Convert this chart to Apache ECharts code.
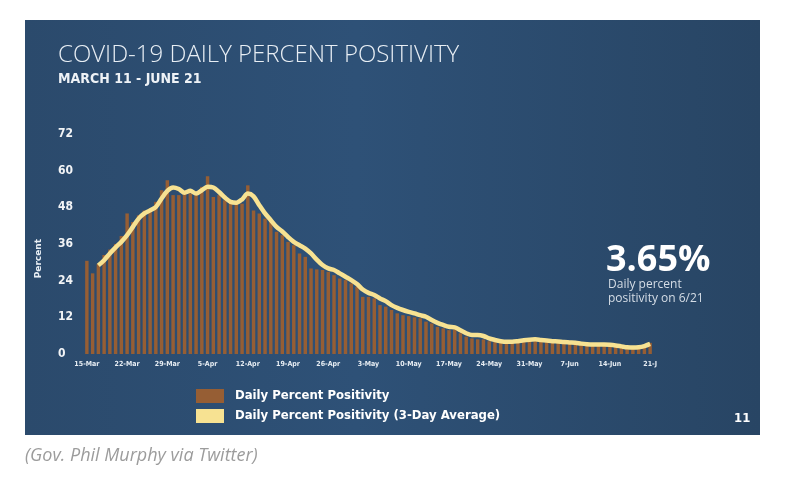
<!DOCTYPE html>
<html>
<head>
<meta charset="utf-8">
<script src="https://cdn.jsdelivr.net/npm/echarts@6/dist/echarts.min.js"></script>
<style>
  html, body { margin: 0; padding: 0; background: #ffffff; }
  #chart { width: 785px; height: 480px; }
</style>
</head>
<body>
<div id="chart"></div>
<script>
// daily positivity, 15-Mar .. 21-Jun
var dailyPositivity = [
    30.5, 26.4, 29.5, 32.4, 34.2, 36.0, 38.6, 46.0, 43.2, 45.4,
    47.0, 47.6, 49.8, 53.6, 56.9, 52.0, 52.0, 53.0, 52.5, 52.0,
    54.7, 58.2, 51.4, 52.0, 50.3, 49.2, 49.2, 49.2, 55.2, 47.0,
    46.0, 44.3, 43.2, 40.0, 38.9, 36.7, 35.6, 32.9, 31.8, 28.0,
    27.7, 27.5, 26.9, 25.8, 24.7, 24.2, 23.1, 22.0, 18.7, 18.7,
    18.2, 16.0, 15.5, 14.4, 13.3, 12.7, 12.4, 12.0, 11.7, 10.6,
    10.0, 8.9, 8.4, 7.8, 8.0, 6.8, 5.7, 5.1, 4.8, 4.8,
    4.2, 3.9, 3.6, 3.5, 3.6, 4.6, 4.9, 4.5, 4.8, 4.2,
    4.3, 3.9, 3.8, 3.7, 3.6, 3.5, 3.0, 2.9, 3.0, 3.2,
    2.9, 2.8, 2.6, 2.2, 2.0, 2.0, 2.3, 2.6, 3.65
];

// 3-day average line, starts on the third day
var threeDayAvg = [
    null, null, 29.0, 30.7, 32.9, 34.9, 36.7, 38.9, 41.6, 44.3,
    46.0, 47.0, 48.1, 50.9, 53.4, 54.5, 54.0, 52.8, 53.4, 52.5,
    53.6, 54.7, 54.5, 53.0, 51.2, 49.8, 49.5, 50.6, 52.5, 51.6,
    48.7, 46.0, 43.8, 41.6, 40.1, 38.3, 36.7, 35.6, 34.5, 32.9,
    30.9, 29.1, 28.0, 27.5, 26.4, 25.3, 24.2, 22.9, 21.1, 20.0,
    19.3, 18.2, 17.3, 16.0, 15.1, 14.4, 13.8, 13.3, 12.7, 12.2,
    11.1, 10.2, 9.5, 8.9, 8.7, 7.8, 6.8, 6.2, 6.2, 5.9,
    5.1, 4.6, 4.2, 4.0, 4.0, 4.2, 4.5, 4.7, 4.8, 4.6,
    4.4, 4.2, 4.1, 3.9, 3.8, 3.7, 3.4, 3.2, 3.1, 3.1,
    3.1, 3.0, 2.8, 2.5, 2.2, 2.1, 2.2, 2.6, 3.3
];

// weekly tick labels as printed on the slide (last one is cut off)
var tickLabels = ['15-Mar', '22-Mar', '29-Mar', '5-Apr', '12-Apr', '19-Apr', '26-Apr',
    '3-May', '10-May', '17-May', '24-May', '31-May', '7-Jun', '14-Jun', '21-J'];

var yTicks = {min: 0, max: 72, interval: 12};

// one category per day, 15-Mar .. 21-Jun
var monthNames = ['Mar', 'Apr', 'May', 'Jun'];
var monthDays = [[15, 31], [1, 30], [1, 31], [1, 21]];
var days = [];
monthDays.forEach(function (range, m) {
    for (var d = range[0]; d <= range[1]; d++) {
        days.push(d + '-' + monthNames[m]);
    }
});

var seriesNames = ['Daily Percent Positivity', 'Daily Percent Positivity (3-Day Average)'];

var chart = echarts.init(document.getElementById('chart'));

var option = {
    backgroundColor: '#ffffff',
    animation: false,
    graphic: [
        {
            type: 'rect', left: 25, top: 20, z: -10, silent: true,
            shape: {width: 735, height: 415},
            style: {
                fill: {
                    type: 'linear', x: 0, y: 0, x2: 1, y2: 0,
                    colorStops: [
                        {offset: 0, color: '#2b4a6c'},
                        {offset: 0.45, color: '#2e5177'},
                        {offset: 1, color: '#284564'}
                    ]
                }
            }
        },
        {
            type: 'text', left: 58, top: 43,
            style: {
                text: 'COVID-19 DAILY PERCENT POSITIVITY', fill: '#e8eef4',
                font: '300 24px "Open Sans"'
            }
        },
        {
            type: 'text', left: 58, top: 72,
            style: {
                text: 'MARCH 11 - JUNE 21', fill: '#eef2f6',
                font: 'bold 14px "DejaVu Sans Condensed"'
            }
        },
        {
            type: 'text', left: 34, top: 239, rotation: Math.PI / 2,
            style: {
                text: 'Percent', fill: '#e8eef4',
                font: 'bold 9px "DejaVu Sans"'
            }
        },
        {
            type: 'text', left: 606, top: 243,
            style: {
                text: '3.65%', fill: '#ffffff',
                font: 'bold 36px "Open Sans"'
            }
        },
        {
            type: 'text', left: 608, top: 278,
            style: {
                text: 'Daily percent\npositivity on 6/21', fill: '#d5dde6',
                font: '12px "Open Sans"', lineHeight: 14
            }
        },
        {
            type: 'text', left: 734, top: 412,
            style: {
                text: '11', fill: '#ffffff',
                font: 'bold 13px "DejaVu Sans Condensed"'
            }
        },
        {
            type: 'text', left: 25, top: 447,
            style: {
                text: '(Gov. Phil Murphy via Twitter)', fill: '#9c9c9c',
                font: 'italic 18px "Open Sans"'
            }
        }
    ],
    legend: {
        orient: 'vertical',
        left: 191,
        top: 384,
        itemWidth: 28,
        itemHeight: 14,
        itemGap: 6,
        icon: 'rect',
        data: seriesNames,
        textStyle: {
            color: '#ffffff',
            fontWeight: 'bold',
            fontSize: 13,
            fontFamily: 'DejaVu Sans Condensed',
            padding: [0, 0, 0, 6]
        }
    },
    grid: {
        left: 84,
        width: 569,
        top: 134,
        height: 220
    },
    xAxis: {
        type: 'category',
        data: days,
        boundaryGap: true,
        axisLine: {show: false},
        axisTick: {show: false},
        axisLabel: {
            interval: 6,
            margin: 7,
            color: '#e8eef4',
            fontSize: 7,
            fontWeight: 'bold',
            fontFamily: 'DejaVu Sans Condensed',
            formatter: function (value, index) {
                return tickLabels[Math.floor(index / 7)];
            }
        }
    },
    yAxis: {
        type: 'value',
        min: yTicks.min,
        max: yTicks.max,
        interval: yTicks.interval,
        splitLine: {show: false},
        axisLine: {show: false},
        axisTick: {show: false},
        axisLabel: {
            align: 'left',
            margin: 26,
            color: '#f2f4f6',
            fontSize: 12,
            fontWeight: 'bold',
            fontFamily: 'DejaVu Sans Condensed'
        }
    },
    series: [
        {
            name: seriesNames[0],
            type: 'bar',
            data: dailyPositivity,
            barWidth: '60%',
            itemStyle: {color: '#a0602f', opacity: 0.92}
        },
        {
            name: seriesNames[1],
            type: 'line',
            data: threeDayAvg,
            smooth: 0.3,
            symbol: 'none',
            connectNulls: false,
            lineStyle: {color: '#f7e292', width: 4.5},
            itemStyle: {color: '#f7e292'},
            z: 5
        }
    ]
};

chart.setOption(option);
</script>
</body>
</html>
